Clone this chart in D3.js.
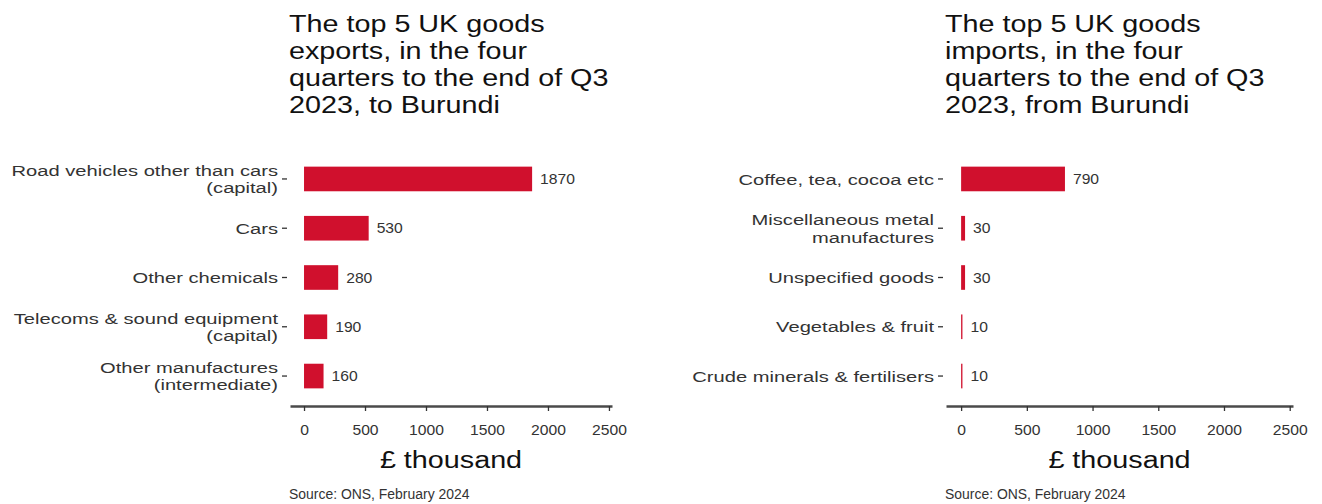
<!DOCTYPE html>
<html><head><meta charset="utf-8">
<script src="https://cdn.jsdelivr.net/npm/d3@7"></script>
<style>body{margin:0;background:#fff}svg{display:block}text{font-family:"Liberation Sans",Arial,sans-serif}</style>
</head><body><svg id="c" width="1322" height="504"></svg>
<script>
const exportCategories = [["Road vehicles other than cars","(capital)"],["Cars"],["Other chemicals"],["Telecoms & sound equipment","(capital)"],["Other manufactures","(intermediate)"]];
const exportValues = [1870, 530, 280, 190, 160];
const importCategories = [["Coffee, tea, cocoa etc"],["Miscellaneous metal","manufactures"],["Unspecified goods"],["Vegetables & fruit"],["Crude minerals & fertilisers"]];
const importValues = [790, 30, 30, 10, 10];
const tickValues = [0, 500, 1000, 1500, 2000, 2500];
const exportTitle = ["The top 5 UK goods","exports, in the four","quarters to the end of Q3","2023, to Burundi"];
const importTitle = ["The top 5 UK goods","imports, in the four","quarters to the end of Q3","2023, from Burundi"];
const xLabel = "£ thousand";
const source = "Source: ONS, February 2024";

const svg = d3.select("#c");
const RED = "#d0102d";
const TXT = "#333333";

// text placed at (x,y) with horizontal stretch sx
function stext(g, x, y, sx, size, anchor, fill) {
  return g.append("text")
    .attr("transform", `translate(${x},${y}) scale(${sx},1)`)
    .attr("font-size", size).attr("text-anchor", anchor).attr("fill", fill);
}

function panel(cats, vals, title, left, right) {
  const g = svg.append("g");
  const keys = cats.map(c => c.join(" "));
  const y = d3.scaleBand().domain(keys).range([142, 413]).paddingInner(0.5).paddingOuter(0.5);
  const x = d3.scaleLinear().domain([-115, 2525]).range([left, right]);
  // title
  const t = stext(g, left - 1, 0, 1.25, 23, "start", "#111");
  title.forEach((l, i) => t.append("tspan").attr("x", 0).attr("y", 32 + i * 27).text(l));
  // bars
  g.selectAll("rect.bar").data(vals).join("rect")
    .attr("x", x(0)).attr("y", (d, i) => y(keys[i]))
    .attr("width", d => Math.max(0, x(d) - x(0))).attr("height", y.bandwidth())
    .attr("fill", RED);
  vals.forEach((d, i) => {
    stext(g, x(d) + 8, y(keys[i]) + y.bandwidth() / 2, 1.08, 14.5, "start", TXT)
      .attr("dy", "0.36em").text(d);
  });
  // y ticks and labels
  keys.forEach((k, i) => {
    const cy = y(k) + y.bandwidth() / 2;
    g.append("line").attr("x1", left - 8).attr("x2", left - 3).attr("y1", cy).attr("y2", cy)
      .attr("stroke", TXT).attr("stroke-width", 1.3);
    const lines = cats[i];
    const lt = stext(g, left - 12, cy, 1.3, 15.5, "end", TXT);
    lines.forEach((l, j) => lt.append("tspan").attr("x", 0)
      .attr("y", (j - (lines.length - 1) / 2) * 17.5).attr("dy", "0.36em").text(l));
  });
  // x axis
  const ax = g.append("g").attr("transform", "translate(0,406)")
    .call(d3.axisBottom(x).tickValues(tickValues).tickFormat(d3.format("d"))
      .tickSize(5).tickSizeOuter(0).tickPadding(14));
  ax.select(".domain").attr("stroke", "#4a4a4a").attr("stroke-width", 2.4);
  ax.selectAll(".tick line").attr("stroke", TXT).attr("stroke-width", 1.3);
  ax.selectAll(".tick text").attr("font-size", 14.5).attr("fill", TXT)
    .attr("font-family", "Liberation Sans, Arial, sans-serif")
    .attr("transform", "scale(1.08,1)");
  stext(g, (left + right) / 2, 468, 1.25, 23, "middle", "#111").text(xLabel);
  stext(g, left - 1, 499, 0.93, 15, "start", TXT).text(source);
}
panel(exportCategories, exportValues, exportTitle, 290, 612);
panel(importCategories, importValues, importTitle, 946, 1293);
</script></body></html>
